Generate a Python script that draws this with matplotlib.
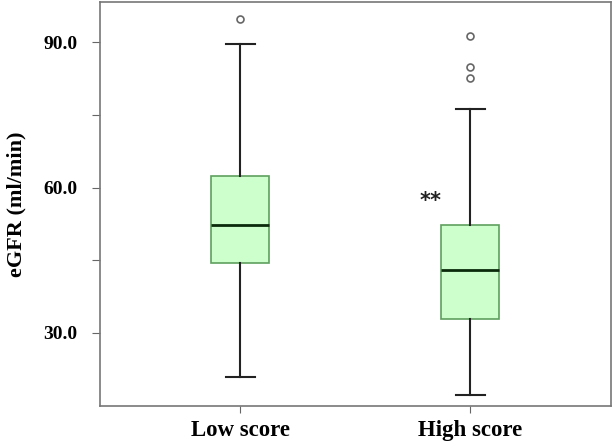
import matplotlib
matplotlib.use("Agg")
import matplotlib.pyplot as plt
from matplotlib.ticker import FixedLocator

# Box statistics
groups = ["Low score", "High score"]
whislo = [20.9, 17.1]
q1 = [44.4, 32.8]
med = [52.3, 42.9]
q3 = [62.5, 52.2]
whishi = [89.6, 76.2]
fliers = [[94.8], [91.3, 84.9, 82.6]]

yticks = [30, 45, 60, 75, 90]
ylabels = ["30.0", "", "60.0", "", "90.0"]

plt.rcParams['font.family'] = ['Liberation Serif', 'DejaVu Serif']
plt.rcParams['font.weight'] = 'bold'

fig = plt.figure(figsize=(6.13, 4.45), dpi=100)
ax = fig.add_axes([0.163, 0.088, 0.834, 0.908])

stats = []
for i in range(len(groups)):
    stats.append(dict(label=groups[i], whislo=whislo[i], q1=q1[i], med=med[i],
                      q3=q3[i], whishi=whishi[i], fliers=fliers[i]))

ax.bxp(stats, positions=[1, 2], widths=0.252, patch_artist=True,
       boxprops=dict(facecolor="#ccffcc", edgecolor="#5f9f5f", linewidth=1.2),
       medianprops=dict(color="#0b2a0b", linewidth=2),
       whiskerprops=dict(color="#222222", linewidth=1.5),
       capprops=dict(color="#222222", linewidth=1.5),
       capwidths=0.126,
       flierprops=dict(marker="o", markersize=5, markerfacecolor="white",
                       markeredgecolor="#666666", markeredgewidth=1.2))

# significance mark
ax.text(1.83, 57.2, "**", fontsize=15, ha="center", va="center",
        color="#222222", family="DejaVu Sans", fontweight="bold")

ax.set_xlim(0.391, 2.613)
ax.set_ylim(14.9, 98.4)
ax.yaxis.set_major_locator(FixedLocator(yticks))
ax.set_yticklabels(ylabels)
ax.set_ylabel("eGFR (ml/min)", fontsize=16, fontweight="bold", labelpad=12)
ax.tick_params(axis="y", labelsize=14, length=6, color="#666666", pad=10)
ax.tick_params(axis="x", labelsize=16.5, length=5, color="#666666", pad=5)

for s in ax.spines.values():
    s.set_color("#777777")
    s.set_linewidth(1.2)

fig.savefig("out.png", dpi=100)
